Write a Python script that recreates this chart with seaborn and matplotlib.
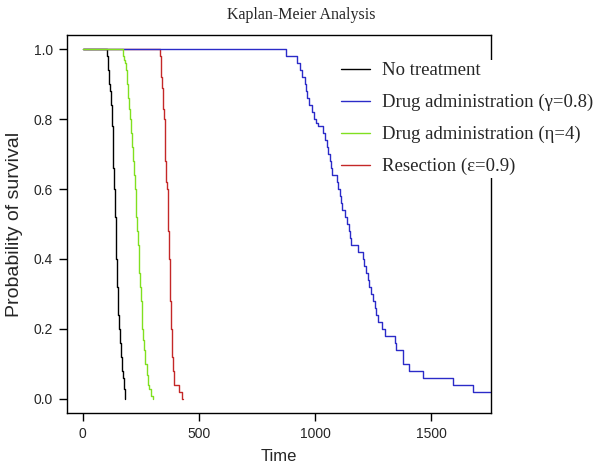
import matplotlib
matplotlib.use("Agg")
import matplotlib.pyplot as plt
import seaborn as sns
import pandas as pd
from matplotlib.lines import Line2D

# ---- data ----
labels = ["No treatment", "Drug administration (\u03b3=0.8)",
          "Drug administration (\u03b7=4)", "Resection (\u03b5=0.9)"]
colors = ["#000000", "#2b2bc8", "#80e020", "#c42828"]

t_none = [0, 106, 108, 110, 113, 115, 117, 120, 122, 124, 126, 128, 130, 132, 135, 137, 139,
          141, 143, 145, 147, 149, 151, 152, 154, 160, 163, 167, 171, 175, 178, 181]
s_none = [1, 0.98, 0.96, 0.94, 0.92, 0.90, 0.88, 0.86, 0.84, 0.82, 0.78, 0.74, 0.70, 0.66, 0.60,
          0.56, 0.52, 0.48, 0.44, 0.40, 0.36, 0.32, 0.28, 0.24, 0.20, 0.16, 0.12, 0.10, 0.08,
          0.06, 0.03, 0.0]

t_drug_g = [0, 875, 924, 935, 945, 955, 960, 964, 975, 985, 995, 1005, 1014, 1035, 1042, 1050,
            1058, 1064, 1068, 1072, 1093, 1100, 1106, 1112, 1118, 1130, 1140, 1146, 1150, 1153,
            1187, 1208, 1213, 1220, 1228, 1234, 1240, 1249, 1259, 1264, 1273, 1288, 1302, 1345,
            1349, 1378, 1406, 1464, 1593, 1682, 1758]
s_drug_g = [1, 0.98, 0.96, 0.94, 0.92, 0.90, 0.88, 0.86, 0.84, 0.82, 0.80, 0.79, 0.78, 0.76,
            0.74, 0.72, 0.70, 0.68, 0.66, 0.64, 0.62, 0.60, 0.58, 0.56, 0.54, 0.52, 0.50, 0.48,
            0.46, 0.44, 0.42, 0.40, 0.38, 0.36, 0.34, 0.32, 0.30, 0.28, 0.26, 0.24, 0.22, 0.20,
            0.18, 0.16, 0.14, 0.10, 0.08, 0.06, 0.04, 0.02, 0.02]

t_drug_e = [0, 173, 178, 183, 188, 192, 196, 200, 205, 209, 213, 217, 220, 224, 228, 231, 234,
            238, 241, 244, 248, 251, 254, 257, 260, 264, 267, 270, 275, 280, 284, 292, 303]
s_drug_e = [1, 0.98, 0.97, 0.96, 0.94, 0.90, 0.86, 0.83, 0.80, 0.76, 0.72, 0.68, 0.64, 0.60,
            0.56, 0.52, 0.48, 0.44, 0.40, 0.36, 0.32, 0.28, 0.24, 0.20, 0.17, 0.14, 0.12, 0.10,
            0.07, 0.04, 0.03, 0.01, 0.0]

t_resect = [0, 332, 335, 338, 341, 344, 347, 350, 352, 354, 356, 358, 360, 363, 365, 367, 369,
            371, 372, 374, 375, 377, 379, 381, 383, 386, 390, 393, 414, 428, 430]
s_resect = [1, 0.98, 0.95, 0.92, 0.89, 0.86, 0.83, 0.80, 0.76, 0.72, 0.68, 0.65, 0.62, 0.60,
            0.56, 0.52, 0.48, 0.44, 0.40, 0.36, 0.32, 0.28, 0.24, 0.20, 0.16, 0.12, 0.08, 0.04,
            0.02, 0.0, 0.0]

x_ticks = [0, 500, 1000, 1500]
y_ticks = [0.0, 0.2, 0.4, 0.6, 0.8, 1.0]

series = {
    labels[0]: (t_none, s_none, colors[0]),
    labels[1]: (t_drug_g, s_drug_g, colors[1]),
    labels[2]: (t_drug_e, s_drug_e, colors[2]),
    labels[3]: (t_resect, s_resect, colors[3]),
}

sns.set_style("white")
plt.rcParams["font.family"] = ["Liberation Sans", "DejaVu Sans"]

fig = plt.figure(figsize=(6.02, 4.66), dpi=100)
ax = fig.add_axes([67 / 602, 53 / 466, 424 / 602, 378 / 466])

draw_order = [labels[0], labels[3], labels[1], labels[2]]
for lab in draw_order:
    t, s, c = series[lab]
    df = pd.DataFrame({"Time": t, "Survival": s})
    sns.lineplot(data=df, x="Time", y="Survival", ax=ax, color=c, lw=1.0,
                 drawstyle="steps-post", estimator=None, sort=False, legend=False)

ax.set_xlim(-68, 1758)
ax.set_ylim(-0.04, 1.04)
ax.set_xticks(x_ticks)
ax.set_xticklabels([str(v) for v in x_ticks])
ax.set_yticks(y_ticks)
ax.set_yticklabels([f"{v:.1f}" for v in y_ticks])
ax.tick_params(direction="out", length=6, width=1, color="black",
               labelsize=10, pad=4, bottom=True, left=True)
for sp in ax.spines.values():
    sp.set_visible(True)
    sp.set_color("black")
    sp.set_linewidth(1.0)

ax.set_xlabel("Time", fontsize=12, labelpad=6)
ax.set_ylabel("Probability of survival", fontsize=14, labelpad=8)
fig.text(301 / 602, 1 - 15 / 466, "Kaplan-Meier Analysis", ha="center", va="center",
         fontsize=11.5, family=["Liberation Serif", "DejaVu Serif"])

handles = [Line2D([0], [0], color=series[l][2], lw=1.0) for l in labels]
leg = ax.legend(handles, labels, loc="upper left", bbox_to_anchor=(338.5 / 602, 1 - 59.5 / 466),
                bbox_transform=fig.transFigure, frameon=True, fancybox=False,
                facecolor="white", edgecolor="none", framealpha=1.0,
                prop={"family": ["Liberation Serif", "DejaVu Serif"], "size": 13.5},
                handlelength=1.55, handletextpad=0.6, labelspacing=0.78, borderpad=0.15,
                borderaxespad=0)
leg.set_zorder(10)

fig.savefig("out.png", dpi=100, facecolor="white")
